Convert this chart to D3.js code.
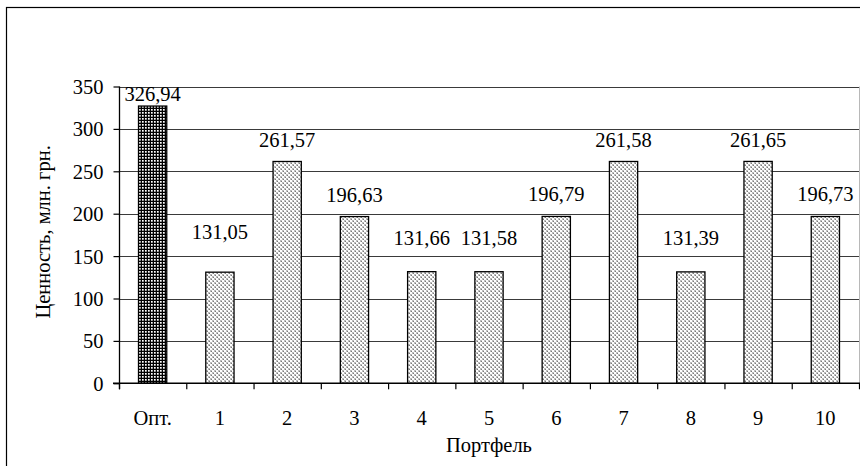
<!DOCTYPE html>
<html>
<head>
<meta charset="utf-8">
<script src="https://cdn.jsdelivr.net/npm/d3@7/dist/d3.min.js"></script>
<style>
  html, body { margin: 0; padding: 0; background: #fff; }
  svg { display: block; }
</style>
</head>
<body>
<svg id="chart" width="860" height="466"></svg>
<script>
// Portfolio values, mln UAH
const categories = ["Опт.", "1", "2", "3", "4", "5", "6", "7", "8", "9", "10"];
const values = [326.94, 131.05, 261.57, 196.63, 131.66, 131.58, 196.79, 261.58, 131.39, 261.65, 196.73];
const valueLabels = ["326,94", "131,05", "261,57", "196,63", "131,66", "131,58", "196,79", "261,58", "131,39", "261,65", "196,73"];
const yTicks = [0, 50, 100, 150, 200, 250, 300, 350];
const yTitle = "Ценность, млн. грн.";
const xTitle = "Портфель";

// layout
const FONT = "'Liberation Serif', 'Times New Roman', Times, serif";
const FS = 20.5;
const plot = { left: 119, right: 859, top: 86.5, bottom: 383.3 };
// vertical gap between each value label's baseline and its bar top
const labelLift = [5, 33, 14, 15, 27, 27, 15, 14, 27, 14, 15];

const svg = d3.select("#chart")
  .attr("font-family", FONT)
  .style("font-family", FONT);

// outer chart frame (runs off the right/bottom edges)
svg.append("rect")
  .attr("x", 6.5).attr("y", 7.5)
  .attr("width", 900).attr("height", 500)
  .attr("fill", "#fff").attr("stroke", "#000").attr("stroke-width", 1.2);

// fill patterns
const defs = svg.append("defs");
const pDark = defs.append("pattern")
  .attr("id", "dark").attr("patternUnits", "userSpaceOnUse")
  .attr("width", 3).attr("height", 3);
pDark.append("rect").attr("width", 3).attr("height", 3).attr("fill", "#000");
pDark.append("rect").attr("x", 1).attr("y", 1).attr("width", 1.7).attr("height", 1.7).attr("fill", "#fff");

const pLight = defs.append("pattern")
  .attr("id", "light").attr("patternUnits", "userSpaceOnUse")
  .attr("width", 4).attr("height", 4);
pLight.append("rect").attr("width", 4).attr("height", 4).attr("fill", "#fff");
pLight.append("rect").attr("x", 0).attr("y", 0).attr("width", 2).attr("height", 2).attr("fill", "#bcbcbc");
pLight.append("rect").attr("x", 2).attr("y", 2).attr("width", 2).attr("height", 2).attr("fill", "#bcbcbc");
pLight.append("rect").attr("x", 1).attr("y", 1).attr("width", 1).attr("height", 1).attr("fill", "#7a7a7a");
pLight.append("rect").attr("x", 3).attr("y", 3).attr("width", 1).attr("height", 1).attr("fill", "#7a7a7a");

// scales
const x = d3.scaleBand()
  .domain(categories)
  .range([plot.left, plot.right])
  .paddingInner(0.58)
  .paddingOuter(0.29);
const xOuter = d3.scaleBand().domain(categories).range([plot.left, plot.right]).padding(0);
const y = d3.scaleLinear().domain([0, 350]).range([plot.bottom, plot.top]);

// right border of plot area
svg.append("line")
  .attr("x1", plot.right + 0.5).attr("x2", plot.right + 0.5)
  .attr("y1", plot.top).attr("y2", plot.bottom)
  .attr("stroke", "#b8b8b8").attr("stroke-width", 1);

// horizontal gridlines
svg.append("g")
  .selectAll("line")
  .data(yTicks.filter(d => d > 0))
  .join("line")
  .attr("x1", plot.left).attr("x2", plot.right)
  .attr("y1", d => Math.round(y(d)) + 0.5).attr("y2", d => Math.round(y(d)) + 0.5)
  .attr("stroke", "#3a3a3a").attr("stroke-width", 1.1);

// bars
svg.append("g")
  .selectAll("rect")
  .data(values)
  .join("rect")
  .attr("x", (d, i) => x(categories[i]))
  .attr("y", d => y(d))
  .attr("width", x.bandwidth())
  .attr("height", d => y(0) - y(d))
  .attr("fill", (d, i) => i === 0 ? "url(#dark)" : "url(#light)")
  .attr("stroke", "#000").attr("stroke-width", 1.3);

// value labels
svg.append("g")
  .selectAll("text")
  .data(values)
  .join("text")
  .attr("x", (d, i) => x(categories[i]) + x.bandwidth() / 2)
  .attr("y", (d, i) => y(d) - labelLift[i])
  .attr("text-anchor", "middle")
  .attr("font-family", FONT)
  .attr("font-size", FS)
  .text((d, i) => valueLabels[i]);

// y axis
const yAxis = d3.axisLeft(y).tickValues(yTicks).tickSize(6).tickPadding(10).tickFormat(d3.format("d"));
const gy = svg.append("g").attr("transform", `translate(${plot.left + 0.5},0)`).call(yAxis)
  .attr("font-family", FONT).attr("font-size", FS);
gy.select(".domain").attr("stroke", "#000").attr("stroke-width", 1.3).attr("d", `M0,${plot.top}V${plot.bottom + 6}`);
gy.selectAll(".tick line").attr("stroke", "#000").attr("stroke-width", 1.2);
gy.selectAll(".tick text").attr("dy", "0.34em").attr("fill", "#000");

// x axis: ticks at category boundaries
const gx = svg.append("g").attr("transform", `translate(0,${plot.bottom})`);
gx.append("line")
  .attr("x1", plot.left - 6).attr("x2", plot.right + 1)
  .attr("y1", 0).attr("y2", 0)
  .attr("stroke", "#000").attr("stroke-width", 1.4);
const boundaries = categories.map(c => xOuter(c)).concat([plot.right]);
gx.selectAll("line.tk")
  .data(boundaries)
  .join("line")
  .attr("class", "tk")
  .attr("x1", d => d + 0.5).attr("x2", d => d + 0.5)
  .attr("y1", 0).attr("y2", 6)
  .attr("stroke", "#000").attr("stroke-width", 1.2);
gx.selectAll("text")
  .data(categories)
  .join("text")
  .attr("x", d => xOuter(d) + xOuter.bandwidth() / 2)
  .attr("y", 42)
  .attr("text-anchor", "middle")
  .attr("font-family", FONT)
  .attr("font-size", FS)
  .text(d => d);

// axis titles
svg.append("text")
  .attr("x", (plot.left + plot.right) / 2)
  .attr("y", 452)
  .attr("text-anchor", "middle")
  .attr("font-family", FONT)
  .attr("font-size", FS)
  .text(xTitle);

svg.append("text")
  .attr("transform", `translate(50,${(plot.top + plot.bottom) / 2 - 3}) rotate(-90)`)
  .attr("text-anchor", "middle")
  .attr("font-family", FONT)
  .attr("font-size", FS)
  .text(yTitle);
</script>
</body>
</html>
